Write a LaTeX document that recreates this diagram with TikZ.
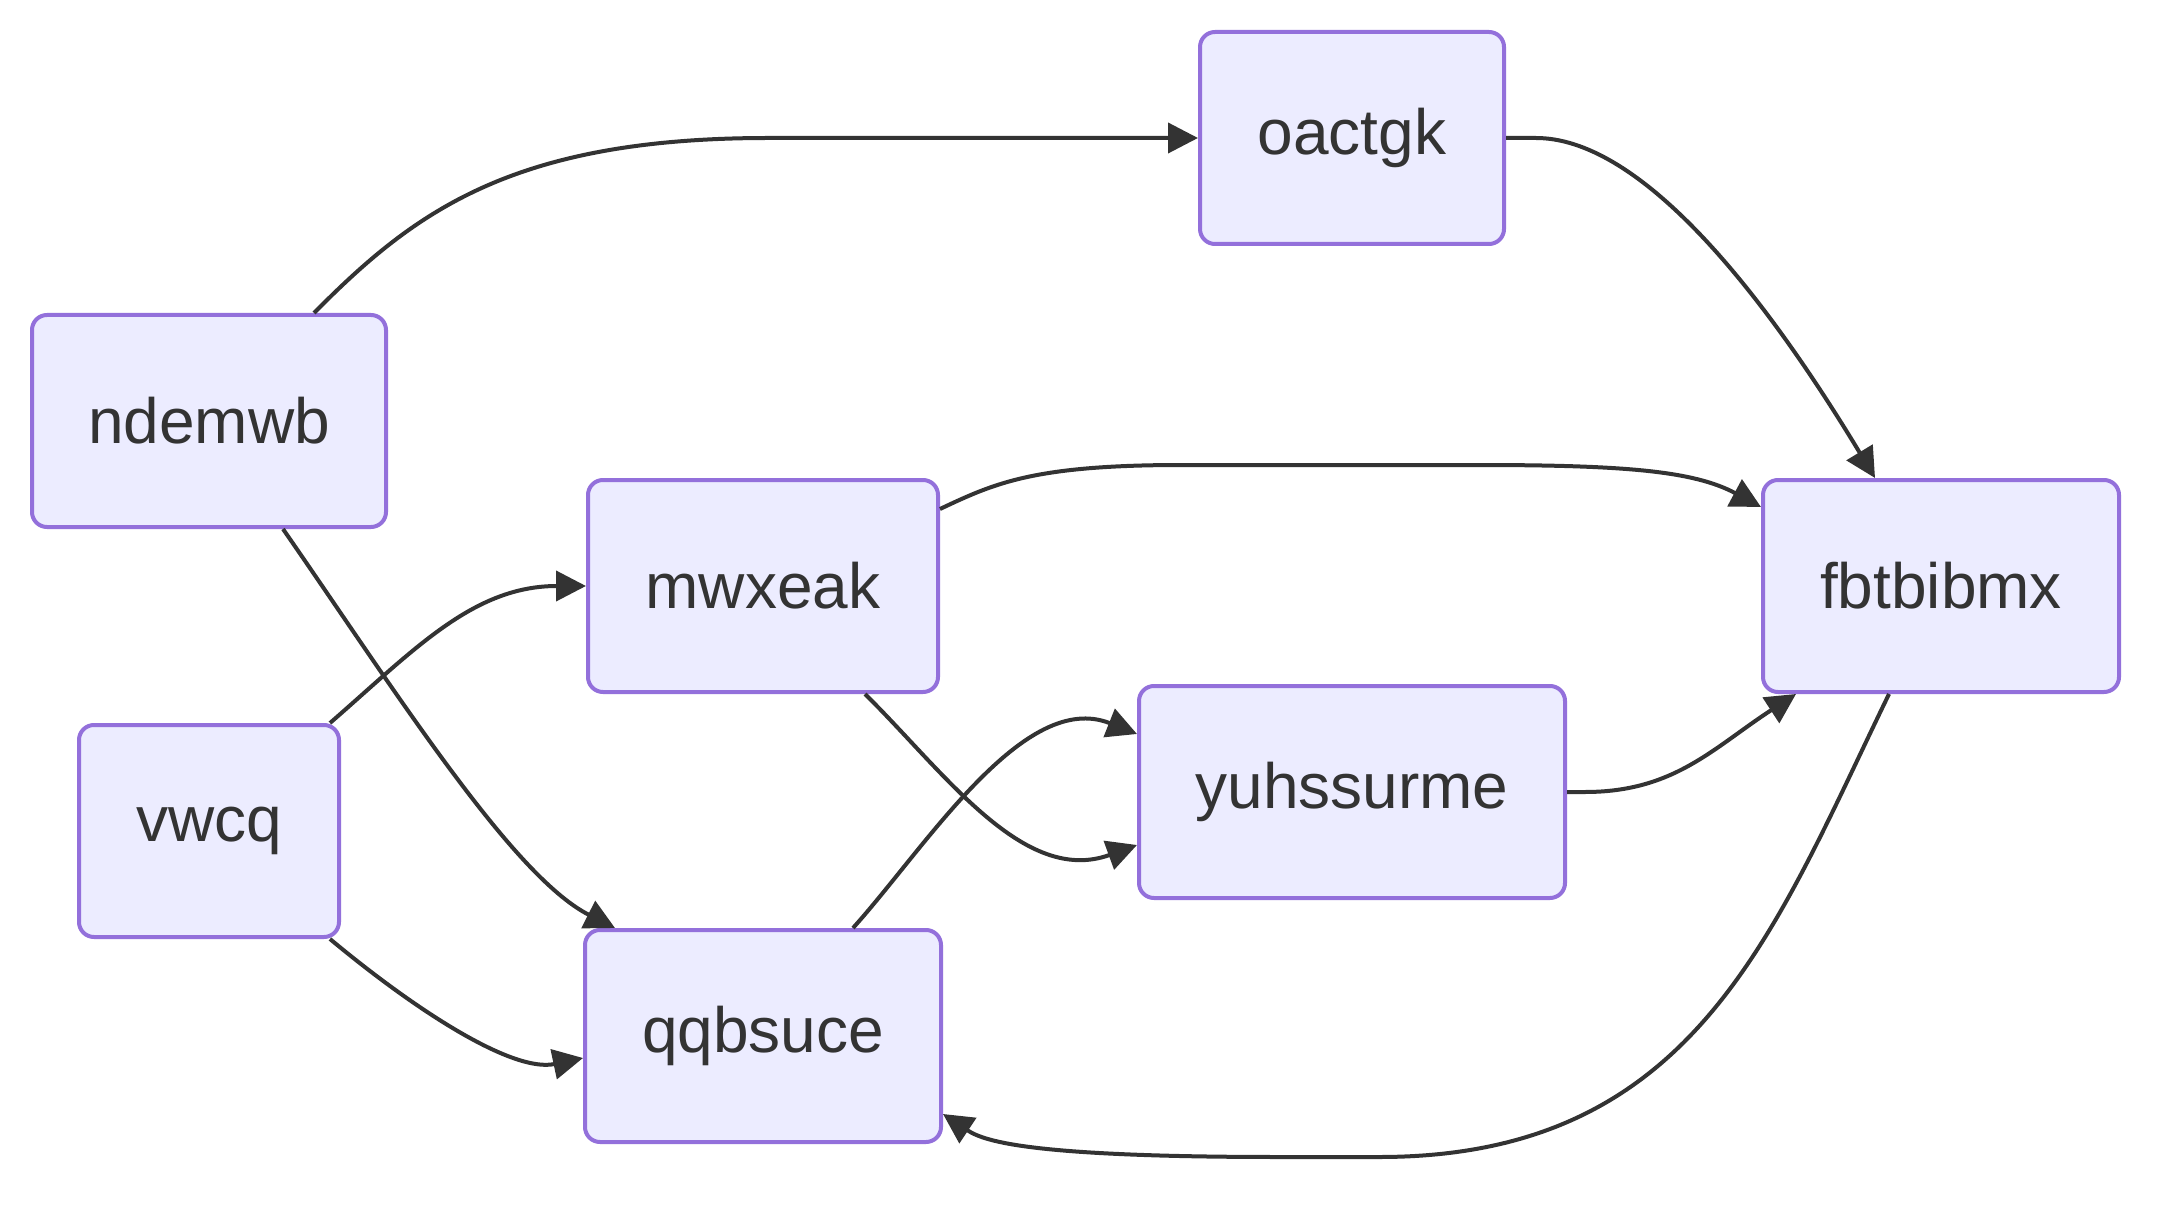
\documentclass[tikz,border=0pt]{standalone}
\usepackage{fontspec}
\setmainfont{Liberation Sans}
\usetikzlibrary{calc,arrows.meta,positioning}
\definecolor{boxfill}{HTML}{ECECFF}
\definecolor{boxline}{HTML}{9370DB}
\definecolor{ink}{HTML}{333333}
\tikzset{
>={Triangle[length=15pt,width=15pt]},
  punkt/.style={
    rectangle,
    rounded corners=7.5pt,
    fill=boxfill,
    draw=boxline, line width=2pt,
    text=ink,
    font=\fontsize{32}{38}\selectfont,
    minimum height=106pt,
    inner sep=0pt,
    text centered},
  link/.style={draw=ink, line width=2pt, ->},
}
\begin{document}
\begin{tikzpicture}[x=0.5pt, y=-0.5pt]
		\useasboundingbox (0,0) rectangle (2184,1208);
		% nodes
		\node[punkt, minimum width=177pt] (ndemwb) at (209,421) {ndemwb};
		\node[punkt, minimum width=130pt] (vwcq) at (209,831) {vwcq};
		\node[punkt, minimum width=175pt] (mwxeak) at (763,586) {mwxeak};
		\node[punkt, minimum width=178pt] (qqbsuce) at (763,1036) {qqbsuce};
		\node[punkt, minimum width=152pt] (oactgk) at (1352,138) {oactgk};
		\node[punkt, minimum width=213pt] (yuhssurme) at (1352,792) {yuhssurme};
		\node[punkt, minimum width=178pt] (fbtbibmx) at (1941,586) {fbtbibmx};
		% connectors
		\draw[link] ($(ndemwb.north)+(105,0)$) .. controls (414,212) and (512,138) .. (768,138) -- (oactgk.west);
		\draw[link] (oactgk.east) -- (1536,138) .. controls (1635,138) and (1753,276) .. ($(fbtbibmx.north)+(-66,0)$);
		\draw[link] ($(mwxeak.east)+(0,-77)$) .. controls (995,483) and (1034,465) .. (1182,465) -- (1477,465) .. controls (1625,465) and (1694,471) .. ($(fbtbibmx.west)+(0,-79)$);
		\draw[link] ($(ndemwb.south)+(74,0)$) .. controls (394,689) and (512,876) .. ($(qqbsuce.north)+(-148,0)$);
		\draw[link] ($(vwcq.north)+(121,0)$) .. controls (414,650) and (473,586) .. (mwxeak.west);
		\draw[link] ($(vwcq.south)+(121,0)$) .. controls (414,1009) and (512,1073) .. ($(qqbsuce.west)+(0,22)$);
		\draw[link] ($(mwxeak.south)+(102,0)$) .. controls (945,773) and (1024,886) .. ($(yuhssurme.west)+(0,53)$);
		\draw[link] ($(qqbsuce.north)+(90,0)$) .. controls (926,847) and (1024,689) .. ($(yuhssurme.west)+(0,-58)$);
		\draw[link] (yuhssurme.east) -- (1585,792) .. controls (1674,792) and (1713,748) .. ($(fbtbibmx.south)+(-145,0)$);
		\draw[link] ($(fbtbibmx.south)+(-52,0)$) .. controls (1772,935) and (1694,1157) .. (1379,1157) -- (1280,1157) .. controls (1034,1157) and (985,1142) .. ($(qqbsuce.east)+(0,78)$);
	\end{tikzpicture}
\end{document}
